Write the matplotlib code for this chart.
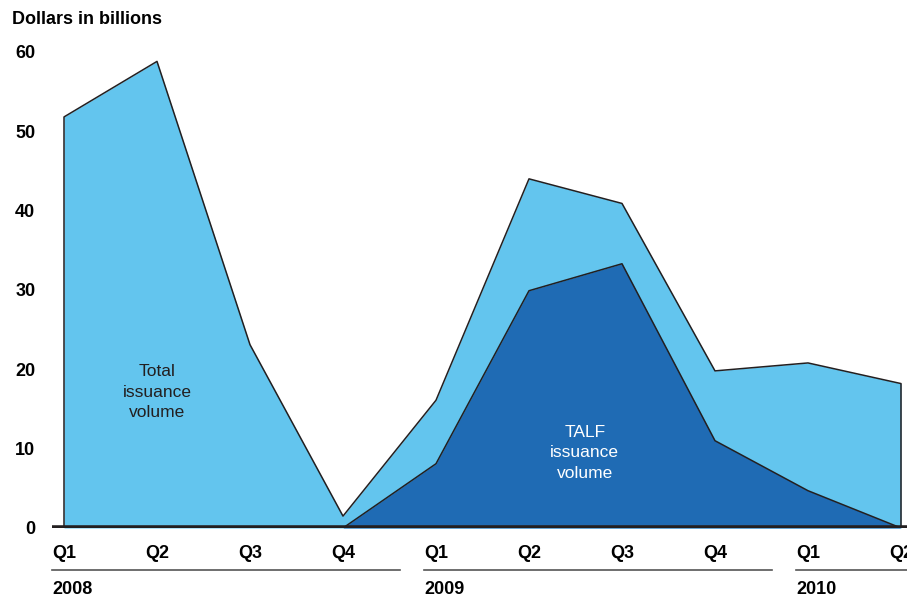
import matplotlib.pyplot as plt
import matplotlib.transforms as mtransforms

plt.rcParams['font.family'] = ['Liberation Sans', 'DejaVu Sans']

# --- dados (em mil milhões de dólares) ---
quarters = ["Q1", "Q2", "Q3", "Q4", "Q1", "Q2", "Q3", "Q4", "Q1", "Q2"]
years = ["2008", "2009", "2010"]
year_first_idx = [0, 4, 8]
year_last_idx = [3, 7, 9]
total_volume = [51.8, 58.8, 23.1, 1.5, 16.1, 44.0, 40.9, 19.8, 20.8, 18.2]
talf_volume = [8.1, 29.9, 33.3, 11.0, 4.7, 0.0]
talf_start = 3  # TALF começa em 2008 Q4 (valor 0)
talf_values = [0.0] + talf_volume

LIGHT = "#63c5ee"
DARK = "#1f6bb4"
EDGE = "#231f20"

x = list(range(len(quarters)))
x_talf = list(range(talf_start, talf_start + len(talf_values)))

fig = plt.figure(figsize=(9.07, 5.97), dpi=100)
ax = fig.add_axes([52 / 907, 69 / 597, 855 / 907, 492 / 597])

ax.fill_between(x, total_volume, 0, color=LIGHT, lw=0)
ax.plot([x[0]] + x + [x[-1]], [0] + total_volume + [0], color=EDGE, lw=1.1)
ax.fill_between(x_talf, talf_values, 0, color=DARK, lw=0)
ax.plot(x_talf, talf_values, color=EDGE, lw=1.1)
ax.axhline(0, color=EDGE, lw=4, zorder=5)

ax.set_xlim(-12 / 93, len(quarters) - 1 + 6 / 93)
ax.set_ylim(0, 62)

for s in ax.spines.values():
    s.set_visible(False)

ax.set_yticks([0, 10, 20, 30, 40, 50, 60])
ax.tick_params(axis='y', length=0, pad=12, labelsize=13)
ax.set_xticks(x)
ax.set_xticklabels(quarters)
ax.tick_params(axis='x', length=0, pad=12, labelsize=13)
for lab in ax.get_xticklabels() + ax.get_yticklabels():
    lab.set_fontweight('bold')

fig.text(12 / 907, 1 - 19 / 597, "Dollars in billions", fontsize=13,
         fontweight='bold', va='center', ha='left')

# linhas dos anos e rótulos
trans = mtransforms.blended_transform_factory(ax.transData, ax.transAxes)
for yr, i0, i1 in zip(years, year_first_idx, year_last_idx):
    x0 = i0 - 12 / 93
    x1 = i1 + 0.61 if i1 < len(quarters) - 1 else ax.get_xlim()[1]
    ax.plot([x0, x1], [-0.085, -0.085], color="#555555", lw=1.2,
            transform=trans, clip_on=False)
    ax.text(x0, -0.124, yr, transform=trans, ha='left', va='center',
            fontsize=13, fontweight='bold')

ax.text(1, 17.1, "Total\nissuance\nvolume", ha='center', va='center',
        fontsize=12.5, color="#231f20", linespacing=1.45)
ax.text(5.6, 9.5, "TALF\nissuance\nvolume", ha='center', va='center',
        fontsize=12.5, color="white", linespacing=1.45)

fig.savefig("out.png", dpi=100)
